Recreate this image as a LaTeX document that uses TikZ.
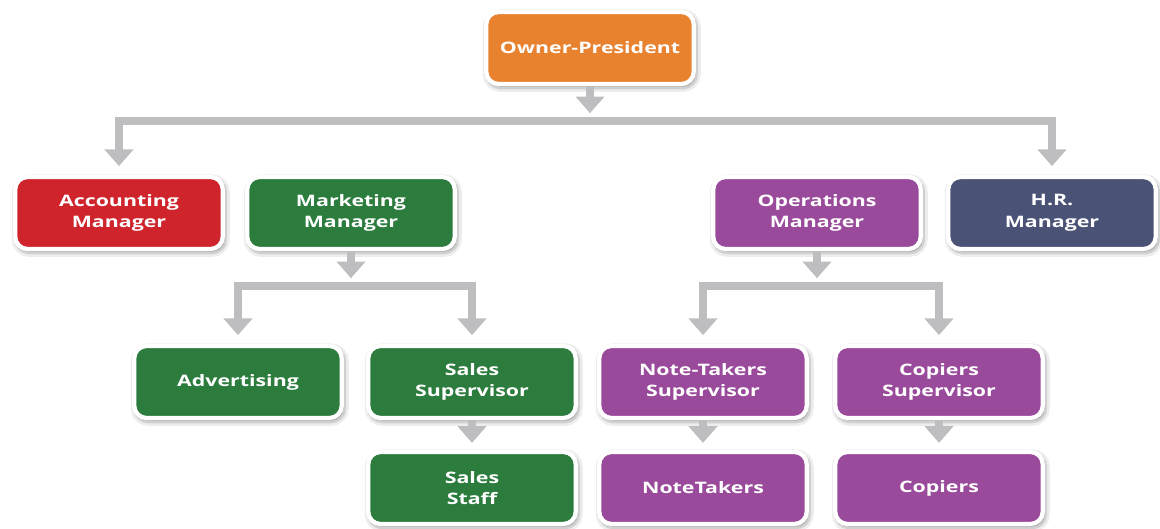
\documentclass[tikz,border=0pt]{standalone}
\usepackage{fontspec}
\newfontfamily\kaderfont{Open Sans}[FakeStretch=1.35]
\usetikzlibrary{calc,shadows,arrows.meta}
\definecolor{oranje}{RGB}{232,130,47}
\definecolor{rood}{RGB}{208,36,44}
\definecolor{groen}{RGB}{44,124,62}
\definecolor{paars}{RGB}{153,74,155}
\definecolor{leisteen}{RGB}{74,82,117}
\definecolor{pijlgrijs}{RGB}{190,190,192}
\tikzset{
    punt/.tip={Triangle[width=16pt,length=9.5pt]},
    kader/.style={draw=white, line width=2.4pt, rounded corners=7pt,
        minimum width=4.15cm, minimum height=1.44cm, align=center, text=white,
        font=\kaderfont\bfseries\fontsize{9}{12.3}\selectfont,
        general shadow={shadow xshift=1pt, shadow yshift=-1.5pt, fill=black, draw=black, line width=6pt, opacity=.07},
        general shadow={shadow xshift=1pt, shadow yshift=-1.5pt, fill=black, draw=black, line width=3pt, opacity=.12}},
    pijl/.style={draw=pijlgrijs, line width=4.3pt, line join=miter, -punt}
}
\NewDocumentCommand{\vertakking}{m m m}{ % ouder, linkerkind, rechterkind
    \coordinate (balk) at ($(#1.south)+(0,35)$);
    \draw[pijl] (#1.south) -- ([yshift=4.5pt]balk);
    \draw[pijl, punt-punt] ([yshift=5pt]#2.north) |- (balk) -| ([yshift=5pt]#3.north);
}

\begin{document}
\begin{tikzpicture}[x=0.02cm, y=-0.02cm]
    \useasboundingbox (0,0) rectangle (1160,528);
    \node[kader, fill=oranje] (eigenaar) at (590,48) {Owner-President};
    % eerste laag
    \node[kader, fill=rood] (boekhouding) at (119,213) {Accounting\\Manager};
    \node[kader, fill=groen] (marketing) at (351,213) {Marketing\\Manager};
    \node[kader, fill=paars] (operaties) at (817,213) {Operations\\Manager};
    \node[kader, fill=leisteen] (personeel) at (1052,213) {H.R.\\Manager};
    % tweede laag
    \node[kader, fill=groen] (reclame) at (238,382) {Advertising};
    \node[kader, fill=groen] (verkoopchef) at (472,382) {Sales\\Supervisor};
    \node[kader, fill=paars] (notitiechef) at (703,382) {Note-Takers\\Supervisor};
    \node[kader, fill=paars] (kopieerchef) at (939,382) {Copiers\\Supervisor};
    % derde laag
    \node[kader, fill=groen] (verkopers) at (472,488) {Sales\\Staff};
    \node[kader, fill=paars] (notulisten) at (703,488) {NoteTakers};
    \node[kader, fill=paars] (kopieerders) at (939,488) {Copiers};

    \vertakking{eigenaar}{boekhouding}{personeel}
    \vertakking{marketing}{reclame}{verkoopchef}
    \vertakking{operaties}{notitiechef}{kopieerchef}
    \draw[pijl] (verkoopchef.south) -- ([yshift=4pt]verkopers.north);
    \draw[pijl] (notitiechef.south) -- ([yshift=4pt]notulisten.north);
    \draw[pijl] (kopieerchef.south) -- ([yshift=4pt]kopieerders.north);
\end{tikzpicture}
\end{document}
